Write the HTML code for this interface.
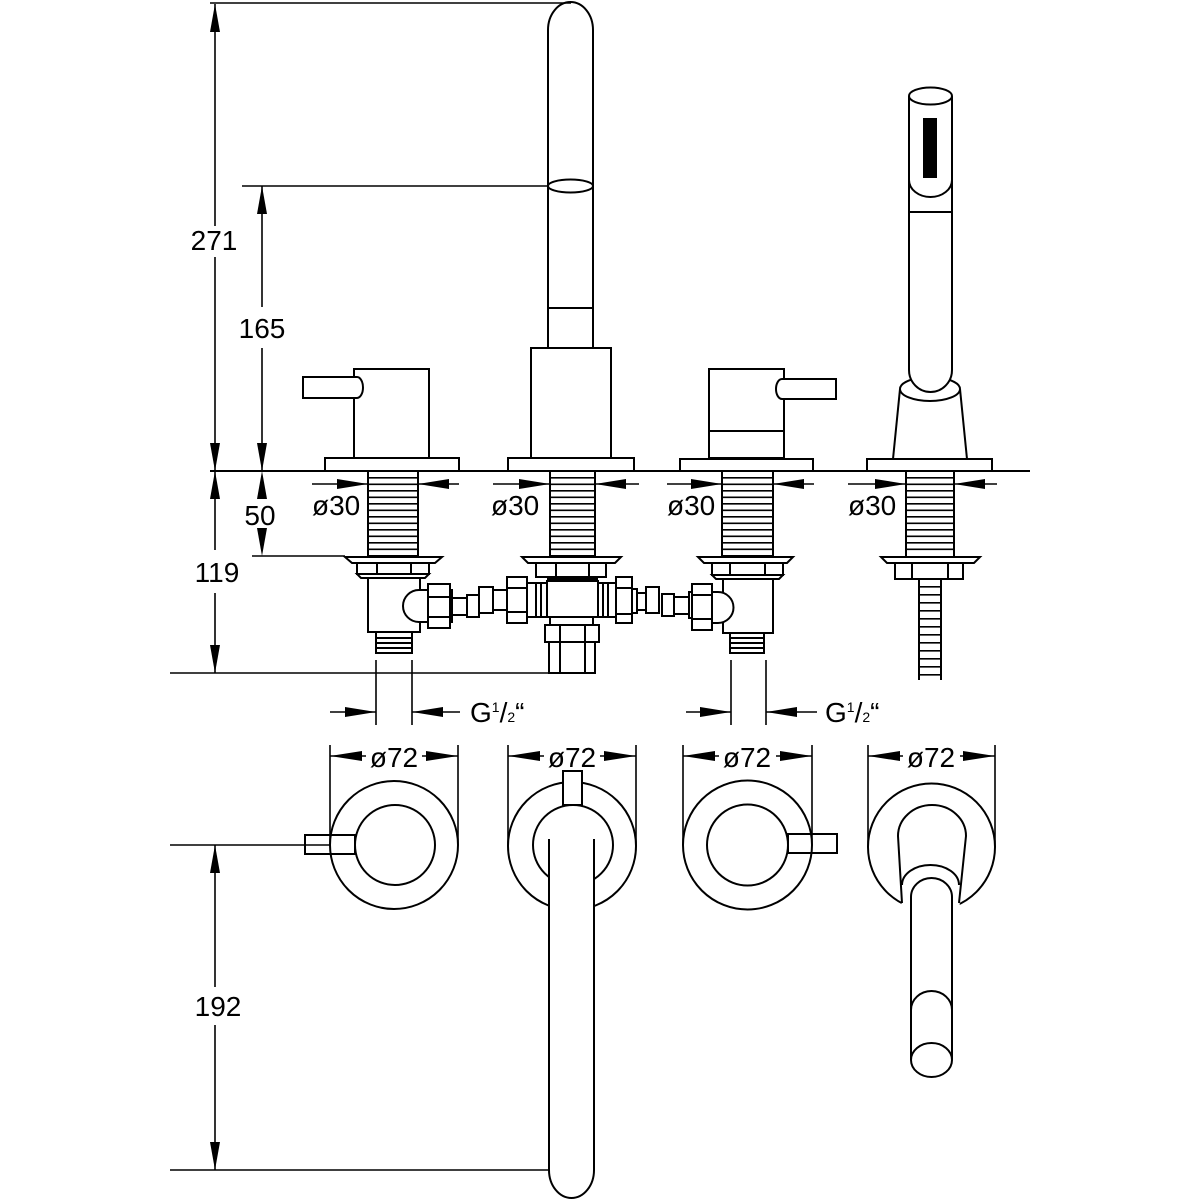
<!DOCTYPE html>
<html><head><meta charset="utf-8"><style>html,body{margin:0;padding:0;background:#fff}svg{display:block}</style></head>
<body>
<svg width="1200" height="1200" viewBox="0 0 1200 1200" xmlns="http://www.w3.org/2000/svg">
<rect width="1200" height="1200" fill="#fff"/>

<!-- ===== FRONT VIEW ABOVE DECK ===== -->
<g fill="none" stroke="#000" stroke-width="2">
  <line x1="210" y1="471" x2="1030" y2="471"/>
  <!-- left valve -->
  <rect x="325" y="458" width="134" height="13"/>
  <rect x="354" y="369" width="75" height="89"/>
  <path d="M357,377 L303,377 L303,398 L357,398 A6,10.5 0 0 0 357,377" fill="#fff"/>
  <!-- central spout -->
  <rect x="508" y="458" width="126" height="13"/>
  <rect x="531" y="348" width="80" height="110"/>
  <path d="M548,348 L548,30 A22.5,28 0 0 1 593,30 L593,348"/>
  <line x1="548" y1="308" x2="593" y2="308"/>
  <ellipse cx="570.5" cy="186" rx="22.5" ry="6.5"/>
  <!-- right valve -->
  <rect x="680" y="459" width="133" height="12"/>
  <rect x="709" y="369" width="75" height="89"/>
  <line x1="709" y1="431" x2="784" y2="431"/>
  <path d="M782,379 L836,379 L836,399 L782,399 A6,10 0 0 1 782,379" fill="#fff"/>
  <!-- hand shower -->
  <rect x="867" y="459" width="125" height="12"/>
  <path d="M900,389 L893,459 M960,389 L967,459"/>
  <ellipse cx="930" cy="389" rx="30" ry="12"/>
  <path d="M909,96 L909,370 A21.5,22 0 0 0 952,370 L952,96" fill="#fff"/>
  <ellipse cx="930.5" cy="96" rx="21.5" ry="8.5"/>
  <path d="M909,180 A21.5,17 0 0 0 952,180"/>
  <line x1="909" y1="212" x2="952" y2="212"/>
</g>
<rect x="923" y="118" width="14" height="60" fill="#000"/>

<!-- ===== BELOW DECK ===== -->
<g fill="none" stroke="#000" stroke-width="2">
  <!-- left valve -->
  <rect x="368" y="471" width="50" height="85"/>
  <line x1="393" y1="477" x2="393" y2="553" stroke-width="48" stroke-dasharray="1.6 4.9"/>
  <polygon points="345,557 442,557 435,563 352,563"/>
  <rect x="357" y="563" width="72" height="11"/>
  <line x1="377" y1="563" x2="377" y2="574"/><line x1="411" y1="563" x2="411" y2="574"/>
  <polygon points="357,574 429,574 425,578 361,578"/>
  <rect x="368" y="578" width="52" height="54"/>
  <rect x="376" y="632" width="36" height="21"/>
  <line x1="376" y1="638" x2="412" y2="638"/><line x1="376" y1="643" x2="412" y2="643"/><line x1="376" y1="648" x2="412" y2="648"/>
  <path d="M428,590 L419,590 A16,16 0 0 0 419,622 L428,622" fill="#fff"/>
  <!-- left coupling -->
  <rect x="428" y="584" width="22" height="44" fill="#fff"/>
  <line x1="428" y1="597" x2="450" y2="597"/><line x1="428" y1="617" x2="450" y2="617"/>
  <rect x="450" y="590" width="2" height="32"/>
  <rect x="452" y="598" width="15" height="17"/>
  <rect x="467" y="595" width="12" height="22"/>
  <rect x="479" y="587" width="14" height="26"/>
  <rect x="493" y="590" width="14" height="20"/>
  <rect x="507" y="577" width="20" height="46"/>
  <line x1="507" y1="588" x2="527" y2="588"/><line x1="507" y1="612" x2="527" y2="612"/>
  <!-- central -->
  <rect x="550" y="471" width="45" height="85"/>
  <line x1="572.5" y1="477" x2="572.5" y2="553" stroke-width="43" stroke-dasharray="1.6 4.9"/>
  <polygon points="522,557 621,557 615,563 528,563"/>
  <rect x="536" y="563" width="70" height="14"/>
  <line x1="556" y1="563" x2="556" y2="577"/><line x1="589" y1="563" x2="589" y2="577"/>
  <rect x="527" y="583" width="20" height="34"/>
  <line x1="536" y1="583" x2="536" y2="617"/><line x1="541" y1="583" x2="541" y2="617"/>
  <rect x="547" y="581" width="51" height="36"/>
  <rect x="598" y="583" width="18" height="34"/>
  <line x1="603" y1="583" x2="603" y2="617"/><line x1="608" y1="583" x2="608" y2="617"/>
  <rect x="550" y="617" width="43" height="8"/>
  <rect x="545" y="625" width="54" height="17"/>
  <line x1="560" y1="625" x2="560" y2="642"/><line x1="585" y1="625" x2="585" y2="642"/>
  <rect x="549" y="642" width="46" height="31"/>
  <line x1="560" y1="642" x2="560" y2="673"/><line x1="585" y1="642" x2="585" y2="673"/>
  <!-- right coupling -->
  <rect x="616" y="577" width="16" height="46"/>
  <line x1="616" y1="588" x2="632" y2="588"/><line x1="616" y1="614" x2="632" y2="614"/>
  <rect x="632" y="589" width="5" height="24"/>
  <rect x="637" y="593" width="9" height="17"/>
  <rect x="646" y="587" width="13" height="26"/>
  <rect x="662" y="594" width="12" height="22"/>
  <rect x="674" y="597" width="15" height="17"/>
  <rect x="689" y="592" width="3" height="26"/>
  <!-- right valve -->
  <rect x="722" y="471" width="51" height="85"/>
  <line x1="747.5" y1="477" x2="747.5" y2="553" stroke-width="49" stroke-dasharray="1.6 4.9"/>
  <polygon points="698,557 793,557 787,563 704,563"/>
  <rect x="712" y="563" width="71" height="12"/>
  <line x1="730" y1="563" x2="730" y2="575"/><line x1="765" y1="563" x2="765" y2="575"/>
  <polygon points="712,575 783,575 779,579 716,579"/>
  <rect x="723" y="579" width="50" height="54"/>
  <rect x="730" y="633" width="34" height="20"/>
  <line x1="730" y1="638" x2="764" y2="638"/><line x1="730" y1="643" x2="764" y2="643"/><line x1="730" y1="648" x2="764" y2="648"/>
  <path d="M712,592 L718,592 A15.5,15.5 0 0 1 718,623 L712,623" fill="#fff"/>
  <rect x="692" y="584" width="20" height="46" fill="#fff"/>
  <line x1="692" y1="595" x2="712" y2="595"/><line x1="692" y1="619" x2="712" y2="619"/>
  <!-- hand shower -->
  <rect x="906" y="471" width="48" height="86"/>
  <line x1="930" y1="477" x2="930" y2="554" stroke-width="46" stroke-dasharray="1.6 4.9"/>
  <polygon points="881,557 980,557 974,563 887,563"/>
  <rect x="895" y="563" width="68" height="16"/>
  <line x1="912" y1="563" x2="912" y2="579"/><line x1="948" y1="563" x2="948" y2="579"/>
  <line x1="919" y1="579" x2="919" y2="680"/><line x1="941" y1="579" x2="941" y2="680"/>
  <line x1="930" y1="586" x2="930" y2="680" stroke-width="20" stroke-dasharray="1.6 6.4"/>
</g>
<rect x="547" y="577" width="51" height="4" fill="#000"/>

<!-- ===== PLAN VIEW ===== -->
<g fill="none" stroke="#000" stroke-width="2">
  <circle cx="394" cy="845" r="64"/>
  <circle cx="395" cy="845" r="40"/>
  <rect x="305" y="835" width="50" height="19"/>
  <circle cx="572" cy="846" r="64"/>
  <circle cx="573" cy="845" r="40"/>
  <rect x="563" y="771" width="19" height="34" fill="#fff"/>
  <rect x="549" y="839" width="45" height="331" fill="#fff" stroke="none"/>
  <path d="M549,839 L549,1170 A22.5,28 0 0 0 594,1170 L594,839" fill="#fff"/>
  <circle cx="747.5" cy="845" r="64.5"/>
  <circle cx="747.5" cy="845" r="40.5"/>
  <rect x="788" y="834" width="49" height="19"/>
  <circle cx="931.5" cy="847" r="63.5"/>
  <path d="M898,836 A34,31 0 0 1 966,836 L959,912 L902,912 Z" fill="#fff" stroke="none"/>
  <path d="M902,903 L898,836 A34,31 0 0 1 966,836 L959,903"/>
  <path d="M902,885 A28.5,20 0 0 1 959,885"/>
  <rect x="911" y="897" width="41" height="163" fill="#fff" stroke="none"/>
  <path d="M911,1060 L911,897 A20.5,19 0 0 1 952,897 L952,1060"/>
  <path d="M911,1010 A20.5,19 0 0 1 952,1010"/>
  <ellipse cx="931.5" cy="1060" rx="20.5" ry="17"/>
</g>

<!-- ===== DIMENSIONS ===== -->
<g fill="none" stroke="#000" stroke-width="1.6">
  <line x1="210" y1="3" x2="571" y2="3"/>
  <line x1="215" y1="4" x2="215" y2="226"/><line x1="215" y1="257" x2="215" y2="471"/>
  <line x1="242" y1="186" x2="548" y2="186"/>
  <line x1="262" y1="186" x2="262" y2="307"/><line x1="262" y1="348" x2="262" y2="471"/>
  <line x1="252" y1="556" x2="345" y2="556"/>
  <line x1="215" y1="471" x2="215" y2="550"/><line x1="215" y1="593" x2="215" y2="673"/>
  <line x1="170" y1="673" x2="595" y2="673"/>
  <line x1="170" y1="845" x2="330" y2="845"/>
  <line x1="170" y1="1170" x2="549" y2="1170"/>
  <line x1="215" y1="845" x2="215" y2="987"/><line x1="215" y1="1025" x2="215" y2="1170"/>
  <!-- ø30 -->
  <line x1="312" y1="484" x2="368" y2="484"/><line x1="418" y1="484" x2="459" y2="484"/>
  <line x1="493" y1="484" x2="550" y2="484"/><line x1="595" y1="484" x2="639" y2="484"/>
  <line x1="667" y1="484" x2="722" y2="484"/><line x1="773" y1="484" x2="814" y2="484"/>
  <line x1="848" y1="484" x2="906" y2="484"/><line x1="954" y1="484" x2="997" y2="484"/>
  <!-- G1/2 -->
  <line x1="376" y1="660" x2="376" y2="725"/><line x1="412" y1="660" x2="412" y2="725"/>
  <line x1="330" y1="712" x2="376" y2="712"/><line x1="412" y1="712" x2="460" y2="712"/>
  <line x1="731" y1="660" x2="731" y2="725"/><line x1="766" y1="660" x2="766" y2="725"/>
  <line x1="686" y1="712" x2="731" y2="712"/><line x1="766" y1="712" x2="817" y2="712"/>
  <!-- ø72 -->
  <line x1="330" y1="745" x2="330" y2="845"/><line x1="458" y1="745" x2="458" y2="845"/>
  <line x1="330" y1="756" x2="366" y2="756"/><line x1="422" y1="756" x2="458" y2="756"/>
  <line x1="508" y1="745" x2="508" y2="846"/><line x1="636" y1="745" x2="636" y2="846"/>
  <line x1="508" y1="756" x2="544" y2="756"/><line x1="600" y1="756" x2="636" y2="756"/>
  <line x1="683" y1="745" x2="683" y2="845"/><line x1="812" y1="745" x2="812" y2="845"/>
  <line x1="683" y1="756" x2="719" y2="756"/><line x1="776" y1="756" x2="812" y2="756"/>
  <line x1="868" y1="745" x2="868" y2="847"/><line x1="995" y1="745" x2="995" y2="847"/>
  <line x1="868" y1="756" x2="903" y2="756"/><line x1="960" y1="756" x2="995" y2="756"/>
</g>

<g fill="#000" stroke="none">
  <!-- vertical arrows -->
  <polygon points="215,4 210,32 220,32"/><polygon points="215,471 210,443 220,443"/>
  <polygon points="262,186 257,214 267,214"/><polygon points="262,471 257,443 267,443"/>
  <polygon points="262,471 257,499 267,499"/><polygon points="262,556 257,528 267,528"/>
  <polygon points="215,471 210,499 220,499"/><polygon points="215,673 210,645 220,645"/>
  <polygon points="215,845 210,873 220,873"/><polygon points="215,1170 210,1142 220,1142"/>
  <!-- ø30 arrows -->
  <polygon points="368,484 337,479 337,489"/><polygon points="418,484 449,479 449,489"/>
  <polygon points="550,484 519,479 519,489"/><polygon points="595,484 626,479 626,489"/>
  <polygon points="722,484 691,479 691,489"/><polygon points="773,484 804,479 804,489"/>
  <polygon points="906,484 875,479 875,489"/><polygon points="954,484 985,479 985,489"/>
  <!-- G1/2 arrows -->
  <polygon points="376,712 345,707 345,717"/><polygon points="412,712 443,707 443,717"/>
  <polygon points="731,712 700,707 700,717"/><polygon points="766,712 797,707 797,717"/>
  <!-- ø72 arrows -->
  <polygon points="330,756 362,751 362,761"/><polygon points="458,756 426,751 426,761"/>
  <polygon points="508,756 540,751 540,761"/><polygon points="636,756 604,751 604,761"/>
  <polygon points="683,756 715,751 715,761"/><polygon points="812,756 780,751 780,761"/>
  <polygon points="868,756 900,751 900,761"/><polygon points="995,756 963,751 963,761"/>
</g>

<g font-family="'Liberation Sans', Arial, sans-serif" font-size="28" fill="#000">
  <text x="214" y="250" text-anchor="middle">271</text>
  <text x="262" y="338" text-anchor="middle">165</text>
  <text x="260" y="525" text-anchor="middle">50</text>
  <text x="217" y="582" text-anchor="middle">119</text>
  <text x="218" y="1016" text-anchor="middle">192</text>
  <text x="312" y="515">ø30</text>
  <text x="491" y="515">ø30</text>
  <text x="667" y="515">ø30</text>
  <text x="848" y="515">ø30</text>
  <text x="394" y="767" text-anchor="middle">ø72</text>
  <text x="572" y="767" text-anchor="middle">ø72</text>
  <text x="747" y="767" text-anchor="middle">ø72</text>
  <text x="931" y="767" text-anchor="middle">ø72</text>
  <text x="470" y="722">G<tspan font-size="14" dy="-10">1</tspan><tspan dy="10">/</tspan><tspan font-size="14">2</tspan><tspan>“</tspan></text>
  <text x="825" y="722">G<tspan font-size="14" dy="-10">1</tspan><tspan dy="10">/</tspan><tspan font-size="14">2</tspan><tspan>“</tspan></text>
</g>
</svg>
</body></html>
